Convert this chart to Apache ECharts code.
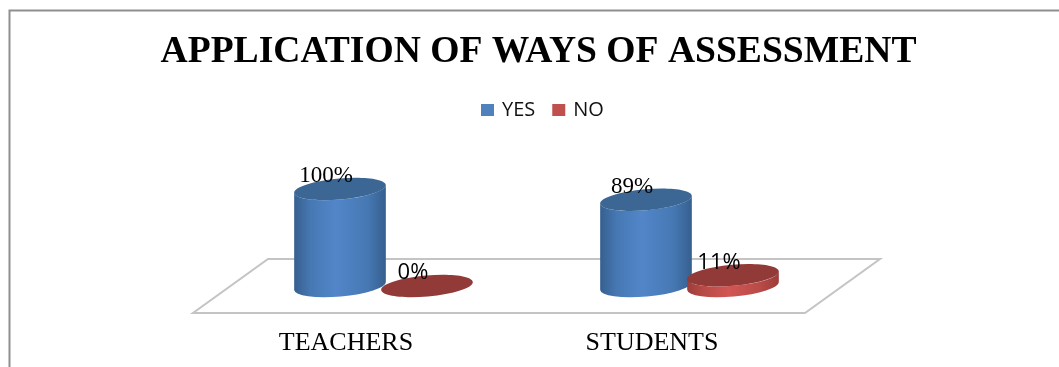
<!DOCTYPE html>
<html>
<head>
<meta charset="utf-8">
<style>
  html, body { margin: 0; padding: 0; background: #fff; }
  #chart { width: 1059px; height: 367px; }
</style>
<script src="https://cdn.jsdelivr.net/npm/echarts@6/dist/echarts.min.js"></script>
</head>
<body>
<div id="chart"></div>
<script>
const chartTitle = 'APPLICATION OF WAYS OF ASSESSMENT';
const categories = ['TEACHERS', 'STUDENTS'];
const yesValues = [100, 89];
const noValues = [0, 11];

const SERIF = '"Liberation Serif", "Times New Roman", serif';
const SANS = '"Open Sans", "Noto Sans", sans-serif';

// Cylinder geometry in pixels, relative to the category centre
const RX = 46, RY = 10.5, TILT = 5 * Math.PI / 180;
const dx = RX * Math.cos(TILT), dy = RX * Math.sin(TILT);

function cylinder(seriesOffset, palette, labelFont, labelSize) {
  return function (params, api) {
    const base = api.coord([api.value(0), 0]);
    const top = api.coord([api.value(0), api.value(1)]);
    const cx = base[0] + seriesOffset;
    const by = base[1], ty = top[1];
    const deg = -TILT * 180 / Math.PI;
    const side = 'M' + (cx - dx) + ' ' + (ty + dy) +
      ' L' + (cx - dx) + ' ' + (by + dy) +
      ' A' + RX + ' ' + RY + ' ' + deg + ' 0 0 ' + (cx + dx) + ' ' + (by - dy) +
      ' L' + (cx + dx) + ' ' + (ty - dy) +
      ' A' + RX + ' ' + RY + ' ' + deg + ' 0 1 ' + (cx - dx) + ' ' + (ty + dy) + ' Z';
    const children = [];
    if (by - ty > 0.5) {
      children.push({
        type: 'path',
        shape: { pathData: side },
        style: {
          fill: new echarts.graphic.LinearGradient(0, 0, 1, 0, [
            { offset: 0, color: palette.edge },
            { offset: 0.18, color: palette.shoulder },
            { offset: 0.45, color: palette.mid },
            { offset: 0.8, color: palette.shoulder },
            { offset: 1, color: palette.edge }
          ])
        }
      });
    }
    children.push({
      type: 'ellipse',
      shape: { cx: 0, cy: 0, rx: RX, ry: RY },
      x: cx, y: ty, rotation: TILT,
      style: { fill: palette.cap }
    });
    children.push({
      type: 'text',
      x: cx - 14, y: ty - 13,
      z2: 10,
      style: {
        text: api.value(1) + '%',
        fill: '#000',
        font: labelSize + 'px ' + labelFont,
        align: 'center',
        verticalAlign: 'middle'
      }
    });
    return { type: 'group', children: children };
  };
}

// Sheared floor plane under the cylinders
function floor(params, api) {
  const cs = params.coordSys;
  const mid = api.coord([0, 0])[1];
  const front = mid + 27, back = mid - 27, shear = 75;
  const pts = [
    [cs.x, front],
    [cs.x + cs.width, front],
    [cs.x + cs.width + shear, back],
    [cs.x + shear, back]
  ];
  return {
    type: 'polygon',
    shape: { points: pts },
    style: { fill: '#fff', stroke: '#c4c4c4', lineWidth: 2 }
  };
}

const toPairs = values => values.map((v, i) => [i, v]);

const chart = echarts.init(document.getElementById('chart'), null, { renderer: 'canvas' });
chart.setOption({
  animation: false,
  backgroundColor: '#fff',
  title: {
    text: chartTitle,
    left: 538.5,
    top: 33,
    padding: 0,
    textAlign: 'center',
    textStyle: { fontFamily: SERIF, fontWeight: 'bold', fontSize: 37.6, color: '#000' }
  },
  legend: {
    data: ['YES', 'NO'],
    left: 481,
    top: 100,
    padding: 0,
    icon: 'rect',
    itemWidth: 13,
    itemHeight: 12,
    itemGap: 17,
    textStyle: { fontFamily: SANS, fontSize: 20, color: '#111', padding: [0, 0, 0, 3] }
  },
  grid: { left: 193, width: 612, top: 189, height: 97 },
  xAxis: {
    type: 'category',
    data: categories,
    axisLine: { show: false },
    axisTick: { show: false },
    axisLabel: { fontFamily: SERIF, fontSize: 26, color: '#000', margin: 44 }
  },
  yAxis: { type: 'value', min: 0, max: 100, show: false },
  graphic: [{
    type: 'polyline',
    silent: true,
    shape: { points: [[9.5, 367], [9.5, 10.5], [1059, 10.5]] },
    style: { fill: 'none', stroke: '#8f8f8f', lineWidth: 2 }
  }],
  series: [
    {
      name: 'floor',
      type: 'custom',
      silent: true,
      z: 1,
      data: [[0, 0]],
      renderItem: floor
    },
    {
      name: 'YES',
      type: 'custom',
      z: 2,
      itemStyle: { color: '#4F81BD' },
      data: toPairs(yesValues),
      renderItem: cylinder(-6, { edge: '#365f8e', shoulder: '#4678b3', mid: '#5286c9', cap: '#3c6795' }, SERIF, 23)
    },
    {
      name: 'NO',
      type: 'custom',
      z: 3,
      itemStyle: { color: '#C0504D' },
      data: toPairs(noValues),
      renderItem: cylinder(81, { edge: '#9c3d3a', shoulder: '#b84a47', mid: '#d25653', cap: '#913a38' }, SANS, 22)
    }
  ]
});
</script>
</body>
</html>
